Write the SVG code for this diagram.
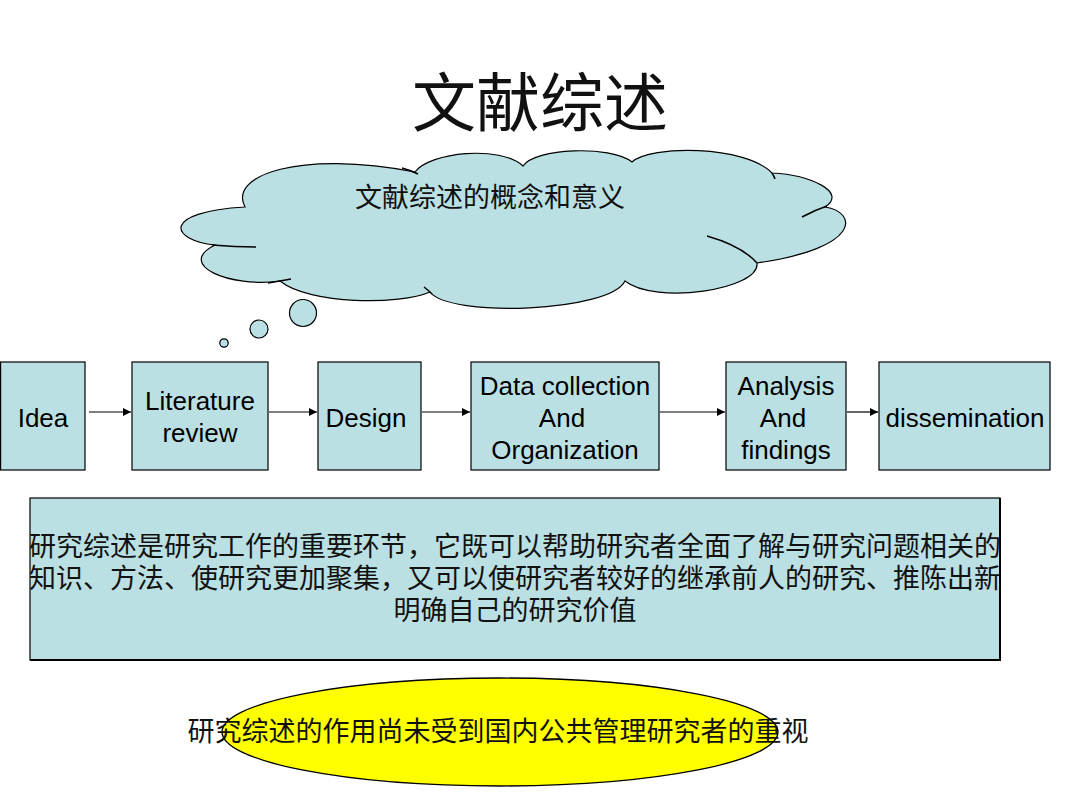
<svg xmlns="http://www.w3.org/2000/svg" width="1080" height="810" viewBox="0 0 1080 810">
<defs>
<marker id="arr" viewBox="0 0 10 10" refX="10" refY="5" markerWidth="10" markerHeight="8" markerUnits="userSpaceOnUse" orient="auto">
<path d="M0,0 L10,5 L0,10 z" fill="#000"/>
</marker>
<style>
.box{fill:#bbe0e3;stroke:#000;stroke-width:1.2}
.en{font-family:"Liberation Sans",Arial,sans-serif;font-size:26px;fill:#000;text-anchor:middle}
.cn{font-family:"Noto Sans CJK SC","Liberation Serif",sans-serif;fill:#111;text-anchor:middle}
.seam{fill:none;stroke:#000;stroke-width:1.5}
.conn{stroke:#000;stroke-width:1.2;fill:none}
</style>
</defs>
<rect width="1080" height="810" fill="#fff"/>
<text id="title" class="cn" x="540" y="126" font-size="64">文献综述</text>

<g id="cloud">
<path class="box" stroke-width="1.6" d="M245,207 C228,175 300,150 415,172 C430,152 500,145 523,166 C535,148 610,145 632,162 C650,145 745,145 772,173 C810,175 848,192 825,207 C858,212 862,248 757,263 C760,290 655,305 625,281 C610,312 450,318 430,292 C400,305 310,305 280,281 C230,288 175,265 215,245 C170,240 160,212 245,207 Z"/>
<path class="seam" d="M212,245 Q235,247 256,247"/>
<path class="seam" d="M268,283 Q280,281 291,279"/>
<path class="seam" d="M432,294 Q428,290 424,287"/>
<path class="seam" d="M707,236 Q742,246 757,263"/>
<path class="seam" d="M802,217 Q815,210 827,206"/>
<path class="seam" d="M402,168 Q410,170 418,174"/>
<path class="seam" d="M772,173 Q774,176 775,179"/>
<circle class="box" stroke-width="1.5" cx="303" cy="313" r="13.5"/>
<circle class="box" stroke-width="1.5" cx="259" cy="329" r="9"/>
<circle class="box" stroke-width="1.5" cx="224" cy="343" r="4.2"/>
<text class="cn" x="490" y="207" font-size="27">文献综述的概念和意义</text>
</g>

<g id="connectors">
<line class="conn" x1="89" y1="412" x2="131" y2="412" marker-end="url(#arr)"/>
<line class="conn" x1="269" y1="412" x2="317" y2="412" marker-end="url(#arr)"/>
<line class="conn" x1="422" y1="412" x2="470" y2="412" marker-end="url(#arr)"/>
<line class="conn" x1="660" y1="412" x2="725" y2="412" marker-end="url(#arr)"/>
<line class="conn" x1="847" y1="412" x2="878" y2="412" marker-end="url(#arr)"/>
</g>

<g id="idea">
<rect class="box" x="0.6" y="362" width="84.4" height="108"/>
<text class="en" x="43" y="427">Idea</text>
</g>
<g id="literature">
<rect class="box" x="132" y="362" width="136" height="108"/>
<text class="en" x="200" y="410">Literature<tspan x="200" dy="32">review</tspan></text>
</g>
<g id="design">
<rect class="box" x="318" y="362" width="103" height="108"/>
<text class="en" x="366" y="427">Design</text>
</g>
<g id="data">
<rect class="box" x="471" y="362" width="188" height="108"/>
<text class="en" x="565" y="395">Data collection<tspan x="562" dy="32">And</tspan><tspan x="565" dy="32">Organization</tspan></text>
</g>
<g id="analysis">
<rect class="box" x="726" y="362" width="120" height="108"/>
<text class="en" x="786" y="395">Analysis<tspan x="783" dy="32">And</tspan><tspan x="786" dy="32">findings</tspan></text>
</g>
<g id="dissemination">
<rect class="box" x="879" y="362" width="171" height="108"/>
<text class="en" x="965" y="427">dissemination</text>
</g>

<g id="summary">
<rect class="box" x="30" y="498" width="970" height="162"/>
<path d="M30,660 L1000,660 L1000,498" fill="none" stroke="#000" stroke-width="2"/>
<text class="cn" x="515" y="556" font-size="27">研究综述是研究工作的重要环节，它既可以帮助研究者全面了解与研究问题相关的<tspan x="515" dy="32">知识、方法、使研究更加聚集，又可以使研究者较好的继承前人的研究、推陈出新</tspan><tspan x="515" dy="32">明确自己的研究价值</tspan></text>
</g>

<g id="note">
<ellipse cx="500" cy="732" rx="278" ry="54" fill="#ffff00" stroke="#000" stroke-width="1.3"/>
<text class="cn" x="498" y="741" font-size="27">研究综述的作用尚未受到国内公共管理研究者的重视</text>
</g>
</svg>
